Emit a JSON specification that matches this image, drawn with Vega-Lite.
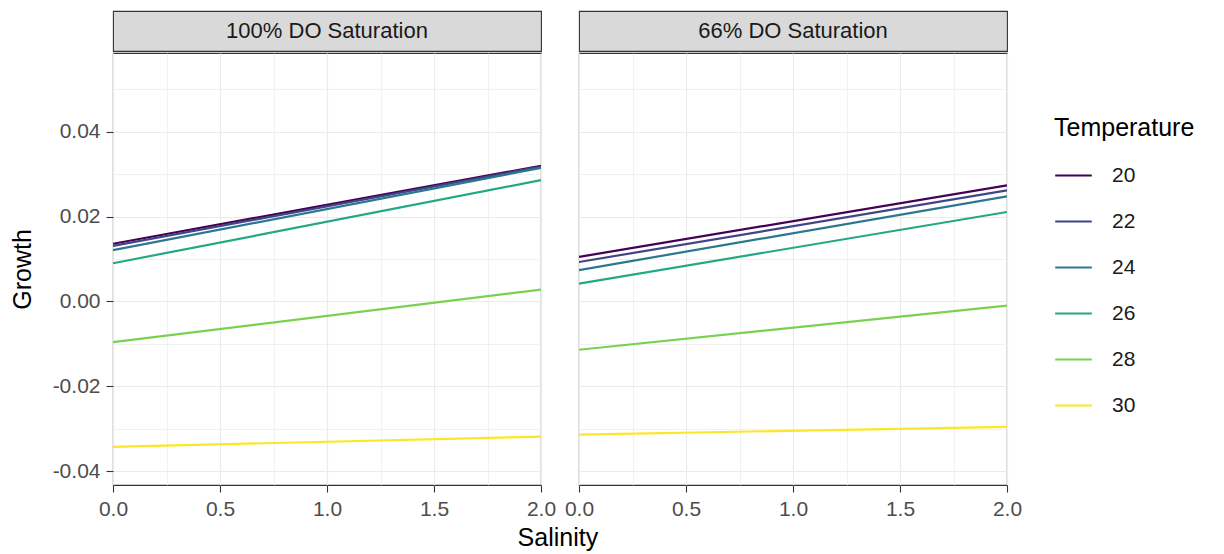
{
  "$schema": "https://vega.github.io/schema/vega-lite/v6.json",
  "padding": {"left": 9, "top": 10, "right": 5, "bottom": 2},
  "background": "white",
  "config": {
    "font": "Liberation Sans",
    "view": {"stroke": "#333333", "strokeWidth": 1.1},
    "axis": {"labelFont": "Liberation Sans", "titleFont": "Liberation Sans"},
    "title": {"font": "Liberation Sans"}
  },
  "title": {"text": "Salinity", "orient": "bottom", "anchor": "start", "frame": "bounds", "dx": 508, "offset": 6,
            "fontSize": 25, "fontWeight": "normal", "color": "#000000"},
  "datasets": {
    "lines": [
      {"DO": "100% DO Saturation", "Temperature": 20, "Salinity": 0, "Growth": 0.0136},
      {"DO": "100% DO Saturation", "Temperature": 20, "Salinity": 2, "Growth": 0.0320},
      {"DO": "100% DO Saturation", "Temperature": 22, "Salinity": 0, "Growth": 0.0131},
      {"DO": "100% DO Saturation", "Temperature": 22, "Salinity": 2, "Growth": 0.0318},
      {"DO": "100% DO Saturation", "Temperature": 24, "Salinity": 0, "Growth": 0.0121},
      {"DO": "100% DO Saturation", "Temperature": 24, "Salinity": 2, "Growth": 0.0315},
      {"DO": "100% DO Saturation", "Temperature": 26, "Salinity": 0, "Growth": 0.0090},
      {"DO": "100% DO Saturation", "Temperature": 26, "Salinity": 2, "Growth": 0.0286},
      {"DO": "100% DO Saturation", "Temperature": 28, "Salinity": 0, "Growth": -0.0096},
      {"DO": "100% DO Saturation", "Temperature": 28, "Salinity": 2, "Growth": 0.0028},
      {"DO": "100% DO Saturation", "Temperature": 30, "Salinity": 0, "Growth": -0.0343},
      {"DO": "100% DO Saturation", "Temperature": 30, "Salinity": 2, "Growth": -0.0319},
      {"DO": "66% DO Saturation", "Temperature": 20, "Salinity": 0, "Growth": 0.0105},
      {"DO": "66% DO Saturation", "Temperature": 20, "Salinity": 2, "Growth": 0.0274},
      {"DO": "66% DO Saturation", "Temperature": 22, "Salinity": 0, "Growth": 0.0093},
      {"DO": "66% DO Saturation", "Temperature": 22, "Salinity": 2, "Growth": 0.0262},
      {"DO": "66% DO Saturation", "Temperature": 24, "Salinity": 0, "Growth": 0.0074},
      {"DO": "66% DO Saturation", "Temperature": 24, "Salinity": 2, "Growth": 0.0248},
      {"DO": "66% DO Saturation", "Temperature": 26, "Salinity": 0, "Growth": 0.0042},
      {"DO": "66% DO Saturation", "Temperature": 26, "Salinity": 2, "Growth": 0.0211},
      {"DO": "66% DO Saturation", "Temperature": 28, "Salinity": 0, "Growth": -0.0114},
      {"DO": "66% DO Saturation", "Temperature": 28, "Salinity": 2, "Growth": -0.0010},
      {"DO": "66% DO Saturation", "Temperature": 30, "Salinity": 0, "Growth": -0.0314},
      {"DO": "66% DO Saturation", "Temperature": 30, "Salinity": 2, "Growth": -0.0296}
    ],
    "panels": [
      {"DO": "100% DO Saturation"},
      {"DO": "66% DO Saturation"}
    ]
  },
  "spacing": 6,
  "hconcat": [
    {
      "spacing": 0,
      "vconcat": [
        {
          "width": 428, "height": 40,
          "view": {"fill": "#D9D9D9", "stroke": "#333333", "strokeWidth": 1.1},
          "data": {"name": "panels"},
          "transform": [{"filter": "datum.DO == '100% DO Saturation'"}],
          "mark": {"type": "text", "fontSize": 22, "color": "#1A1A1A", "font": "Liberation Sans"},
          "encoding": {"text": {"field": "DO"}}
        },
        {
          "width": 428, "height": 432,
          "data": {"name": "lines"},
          "transform": [{"filter": "datum.DO == '100% DO Saturation'"}],
          "mark": {"type": "line", "strokeWidth": 2.2, "clip": true},
          "encoding": {
            "x": {"field": "Salinity", "type": "quantitative",
                  "scale": {"domain": [0, 2], "nice": false, "zero": false},
                  "axis": {"values": [0, 0.25, 0.5, 0.75, 1, 1.25, 1.5, 1.75, 2],
                           "labelExpr": "(datum.value*2) % 1 == 0 ? format(datum.value, '.1f') : ''",
                           "labelFlush": false, "labelOverlap": false,
                           "labelFontSize": 21, "labelColor": "#4D4D4D", "labelPadding": 6,
                           "tickSize": 7, "tickWidth": 1.1,
                           "tickColor": {"condition": {"test": "(datum.value*2) % 1 == 0", "value": "#333333"}, "value": "transparent"},
                           "domain": false,
                           "grid": true,
                           "gridColor": "#EBEBEB",
                           "gridWidth": {"condition": {"test": "(datum.value*2) % 1 == 0", "value": 1.2}, "value": 0.7},
                           "title": null}},
            "y": {"field": "Growth", "type": "quantitative",
                  "scale": {"domain": [-0.0433, 0.0586], "nice": false, "zero": false},
                  "axis": {"values": [-0.04, -0.03, -0.02, -0.01, 0, 0.01, 0.02, 0.03, 0.04, 0.05],
                           "labelExpr": "abs(round(datum.value*100)) % 2 == 0 ? replace(format(datum.value, '.2f'), '\u2212', '-') : ''",
                           "labelFontSize": 21, "labelColor": "#4D4D4D", "labelPadding": 6,
                           "tickSize": 7, "tickWidth": 1.1,
                           "tickColor": {"condition": {"test": "abs(round(datum.value*100)) % 2 == 0", "value": "#333333"}, "value": "transparent"},
                           "domain": false,
                           "grid": true,
                           "gridColor": "#EBEBEB",
                           "gridWidth": {"condition": {"test": "abs(round(datum.value*100)) % 2 == 0", "value": 1.2}, "value": 0.7},
                           "title": "Growth", "titleFontSize": 25, "titleColor": "#000000",
                           "titleFontWeight": "normal", "titlePadding": 17}},
            "color": {"field": "Temperature", "type": "ordinal",
                      "scale": {"domain": [20, 22, 24, 26, 28, 30],
                                "range": ["#440154", "#414487", "#2A788E", "#22A884", "#7AD151", "#FDE725"]},
                      "legend": {"title": "Temperature", "orient": "none", "legendX": 941, "legendY": 105,
                                 "titleFontSize": 25, "titleFontWeight": "normal", "titleColor": "#000000",
                                 "titlePadding": 15,
                                 "labelFontSize": 21, "labelColor": "#1A1A1A", "labelOffset": 19,
                                 "symbolType": "stroke", "symbolSize": 1340, "symbolStrokeWidth": 2.2,
                                 "rowPadding": 16}}
          }
        }
      ]
    },
    {
      "spacing": 0,
      "vconcat": [
        {
          "width": 428, "height": 40,
          "view": {"fill": "#D9D9D9", "stroke": "#333333", "strokeWidth": 1.1},
          "data": {"name": "panels"},
          "transform": [{"filter": "datum.DO == '66% DO Saturation'"}],
          "mark": {"type": "text", "fontSize": 22, "color": "#1A1A1A", "font": "Liberation Sans"},
          "encoding": {"text": {"field": "DO"}}
        },
        {
          "width": 428, "height": 432,
          "data": {"name": "lines"},
          "transform": [{"filter": "datum.DO == '66% DO Saturation'"}],
          "mark": {"type": "line", "strokeWidth": 2.2, "clip": true},
          "encoding": {
            "x": {"field": "Salinity", "type": "quantitative",
                  "scale": {"domain": [0, 2], "nice": false, "zero": false},
                  "axis": {"values": [0, 0.25, 0.5, 0.75, 1, 1.25, 1.5, 1.75, 2],
                           "labelExpr": "(datum.value*2) % 1 == 0 ? format(datum.value, '.1f') : ''",
                           "labelFlush": false, "labelOverlap": false,
                           "labelFontSize": 21, "labelColor": "#4D4D4D", "labelPadding": 6,
                           "tickSize": 7, "tickWidth": 1.1,
                           "tickColor": {"condition": {"test": "(datum.value*2) % 1 == 0", "value": "#333333"}, "value": "transparent"},
                           "domain": false,
                           "grid": true,
                           "gridColor": "#EBEBEB",
                           "gridWidth": {"condition": {"test": "(datum.value*2) % 1 == 0", "value": 1.2}, "value": 0.7},
                           "title": null}},
            "y": {"field": "Growth", "type": "quantitative",
                  "scale": {"domain": [-0.0433, 0.0586], "nice": false, "zero": false},
                  "axis": {"values": [-0.04, -0.03, -0.02, -0.01, 0, 0.01, 0.02, 0.03, 0.04, 0.05],
                           "labels": false, "ticks": false, "domain": false, "title": null,
                           "grid": true,
                           "gridColor": "#EBEBEB",
                           "gridWidth": {"condition": {"test": "abs(round(datum.value*100)) % 2 == 0", "value": 1.2}, "value": 0.7}}},
            "color": {"field": "Temperature", "type": "ordinal",
                      "scale": {"domain": [20, 22, 24, 26, 28, 30],
                                "range": ["#440154", "#414487", "#2A788E", "#22A884", "#7AD151", "#FDE725"]}}
          }
        }
      ]
    }
  ]
}
